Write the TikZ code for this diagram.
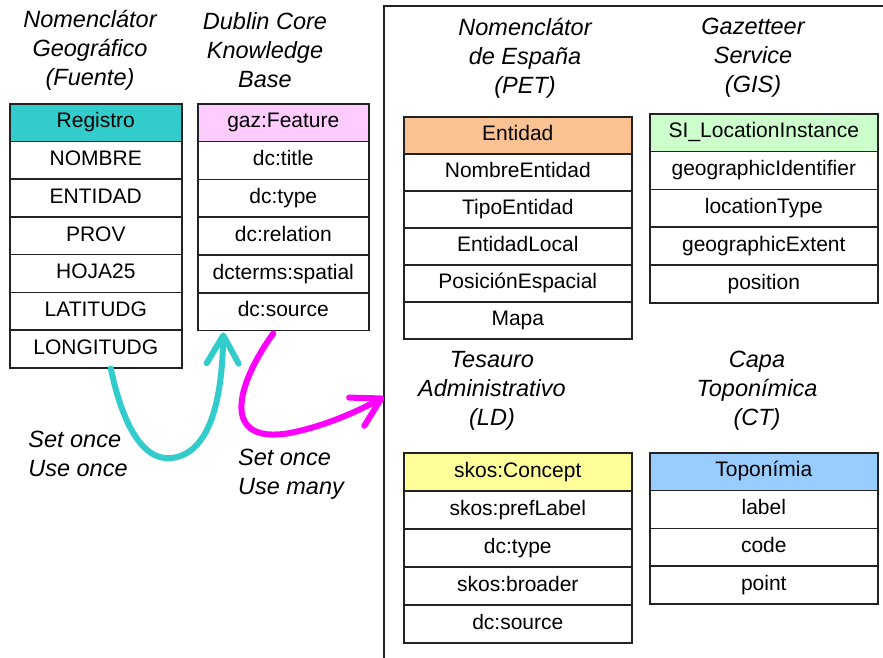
\documentclass[tikz,border=0pt]{standalone}
\usepackage{fontspec}
\setmainfont{Liberation Sans}
\usetikzlibrary{arrows.meta}
\definecolor{hteal}{HTML}{33CCCC}
\definecolor{hpink}{HTML}{FFCCFF}
\definecolor{horange}{HTML}{FBC393}
\definecolor{hgreen}{HTML}{CCFFCC}
\definecolor{hyellow}{HTML}{FFFF99}
\definecolor{hblue}{HTML}{99CCFF}
\definecolor{acyan}{HTML}{33CCCC}
\definecolor{amag}{HTML}{FF00FF}
\definecolor{lineg}{HTML}{222222}
\tikzset{
  cell/.style={draw=lineg, line width=1.6pt, anchor=north west, inner sep=0pt,
    text height=14.5pt, text depth=4pt, font=\fontsize{21}{25}\selectfont},
  grouptitle/.style={align=center, font=\fontsize{23.5}{29}\selectfont\itshape},
  setlabel/.style={align=left, font=\fontsize{23.5}{29}\selectfont\itshape},
  bigarrow/.style={line width=6pt, line cap=round,
    -{Straight Barb[length=28pt,width=32pt,round]}},
}
\newcommand\mktable[8]{% name, x, y, w, h, color, header, rows
  \node[cell, fill=#6, minimum width=#4pt, minimum height=#5pt] (#1-0) at (#2,#3) {#7};
  \foreach \t [count=\i] in {#8} {
    \node[cell, fill=white, minimum width=#4pt, minimum height=#5pt] (#1-\i) at (#2,#3+\i*#5) {\t};
  }
}
\begin{document}
\begin{tikzpicture}[x=1pt,y=-1pt]
\useasboundingbox[fill=white] (0,0) rectangle (883,657);
% frame
\coordinate (fb) at (384,660);
\coordinate (ft) at (384,6);
\coordinate (fr) at (886,6);
\draw[line width=1.8pt, draw=lineg] (fb) -- (ft) -- (fr);

% group titles
\node[grouptitle] (t1) at (90,50) {Nomenclátor\\Geográfico\\(Fuente)};
\node[grouptitle] (t2) at (265,50) {Dublin Core\\Knowledge\\Base};
\node[grouptitle] (t3) at (525,58) {Nomenclátor\\de España\\(PET)};
\node[grouptitle] (t4) at (753,58) {Gazetteer\\Service\\(GIS)};
\node[grouptitle] (t5) at (492,391) {Tesauro\\Administrativo\\(LD)};
\node[grouptitle] (t6) at (757,391) {Capa\\Toponímica\\(CT)};

% tables
\mktable{reg}{9}{103}{172}{37.7}{hteal}{Registro}{NOMBRE,ENTIDAD,PROV,HOJA25,LATITUDG,LONGITUDG}
\mktable{gaz}{197}{103}{171}{37.8}{hpink}{gaz:Feature}{dc:title,dc:type,dc:relation,dcterms:spatial,dc:source}
\mktable{ent}{403}{116}{228}{37}{horange}{Entidad}{NombreEntidad,TipoEntidad,EntidadLocal,PosiciónEspacial,Mapa}
\mktable{sil}{649}{113}{228}{37.8}{hgreen}{SI\_LocationInstance}{geographicIdentifier,locationType,geographicExtent,position}
\mktable{sko}{403}{452}{228}{38}{hyellow}{skos:Concept}{skos:prefLabel,dc:type,skos:broader,dc:source}
\mktable{top}{649}{452}{228}{37.75}{hblue}{Toponímia}{label,code,point}

% labels
\node[setlabel] (l1) at (78,454) {Set once\\Use once};
\node[setlabel] (l2) at (291,474) {Set once\\Use many};

% arrows
\coordinate (cs) at ([xshift=15pt]reg-6.south);
\coordinate (ce) at ([xshift=-60pt,yshift=-1pt]gaz-5.south);
\draw[bigarrow, draw=acyan] (cs) .. controls +(10,48) and (140,462) .. (172,458)
  .. controls (210,453) and (222,400) .. (ce);
\coordinate (ms) at ([xshift=-10pt,yshift=-2pt]gaz-5.south);
\coordinate (me) at (ft |- 0,397);
\draw[bigarrow, draw=amag] (ms) .. controls (236,385) and (220,445) .. (290,433)
  .. controls (315,428) and (345,418) .. (me);
\end{tikzpicture}
\end{document}
